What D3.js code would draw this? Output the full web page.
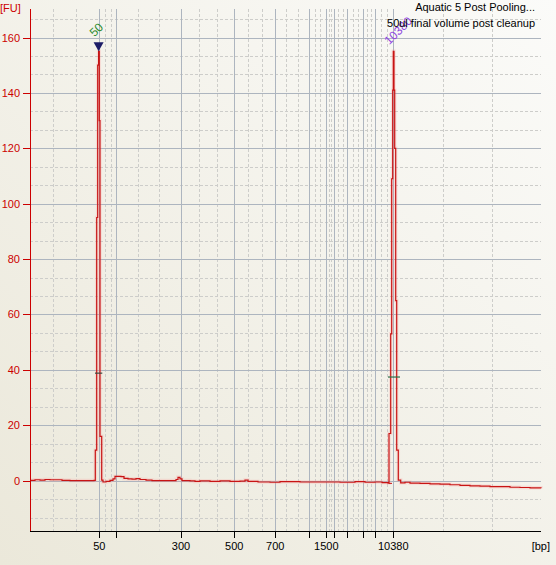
<!DOCTYPE html>
<html>
<head>
<meta charset="utf-8">
<script src="https://cdn.jsdelivr.net/npm/d3@7"></script>
<style>
  html, body { margin: 0; padding: 0; background: #ece9d8; }
  text { font-family: "Liberation Sans", Arial, sans-serif; font-size: 11px; }
</style>
</head>
<body>
<div id="chart"></div>
<script>
// ladder sizes (bp) and their migration times (s)
const ladderBp = [50, 100, 300, 500, 700, 1000, 1500, 2000, 3000, 5000, 7000, 10380]
const ladderTime = [21.93, 23.63, 30.10, 35.43, 39.53, 42.87, 44.63, 45.40, 46.73, 48.33, 49.53, 51.33]
const labeledBp = [50, 300, 500, 700, 1500, 10380]
const yTicks = [0, 20, 40, 60, 80, 100, 120, 140, 160]

// electropherogram trace: time (s) and fluorescence (FU)
const traceTime = [15.0, 15.5, 16.0, 16.5, 17.0, 17.5, 18.2, 19.0, 20.0, 21.0, 21.4,
  21.53, 21.67, 21.77, 21.86, 21.93, 22.00, 22.17, 22.30, 22.6, 23.0, 23.3, 23.5,
  24.1, 24.4, 24.8, 25.2, 25.6, 26.0, 26.6, 27.2, 29.0, 29.6, 29.8, 30.0, 30.2,
  31.0, 31.5, 32.0, 33.0, 34.0, 35.0, 36.0, 36.5, 36.8, 37.8, 39.0, 40.0, 42.0,
  44.0, 46.0, 47.5, 48.5, 49.5, 50.2, 50.8,
  50.9, 51.07, 51.17, 51.27, 51.33, 51.40, 51.47, 51.57, 51.67, 51.83, 52.07,
  52.5, 53.0, 54.0, 55.0, 56.0, 57.0, 58.0, 59.0, 60.0, 61.0, 62.0, 63.0, 64.0, 65.0, 66.1]
const traceFU = [0.1, 0.3, 0.2, 0.4, 0.3, 0.3, 0.1, 0.0, 0.0, 0.0, 0.1,
  11, 95, 150, 155, 130, 16, 0.2, -0.5, -0.3, 0.1, 0.6, 1.5,
  1.4, 0.8, 0.6, 0.5, 0.7, 0.4, 0.2, 0.0, 0.0, 0.4, 1.2, 0.6, 0.0,
  -0.1, -0.3, -0.1, -0.3, -0.1, -0.3, -0.2, 0.2, -0.3, -0.5, -0.6, -0.4, -0.5,
  -0.5, -0.6, -0.4, -0.6, -0.5, -0.7, -0.9,
  17, 53, 109, 141, 155, 141, 120, 65, 11, 0.2, -0.8,
  -0.6, -0.9, -1.0, -1.2, -1.3, -1.5, -1.7, -1.9, -2.0, -2.2, -2.2, -2.4, -2.5, -2.6, -2.8]

// called peaks
const peakBp = [50, 10380]
const peakTime = [21.86, 51.33]
const peakFU = [155, 155]
const peakHalf = [38.8, 37.4]
const peakStart = [21.5, 50.8]
const peakEnd = [22.23, 52.0]

const titleLines = ['Aquatic 5 Post Pooling...', '50ul final volume post cleanup']

const width = 556
const height = 565
const plotLeft = 30, plotRight = 541, plotTop = 9, plotBottom = 531

const xScale = d3.scaleLinear().domain([15, 66.1]).range([plotLeft, plotRight])
const yScale = d3.scaleLinear().domain([-18.2, 170.3]).range([plotBottom, plotTop])

const svg = d3.select('#chart').append('svg')
  .attr('width', width)
  .attr('height', height)

const grad = svg.append('defs').append('linearGradient')
  .attr('id', 'bg')
  .attr('x1', 1).attr('y1', 0).attr('x2', 0).attr('y2', 1)
grad.append('stop').attr('offset', 0).attr('stop-color', '#fbfbf9')
grad.append('stop').attr('offset', 1).attr('stop-color', '#ebe8da')

svg.append('rect')
  .attr('width', width)
  .attr('height', height)
  .attr('fill', 'url(#bg)')

// minor grid: thirds between consecutive majors (and plot edges)
const xEdges = [15].concat(ladderTime, [66.1])
const xMinor = []
for (let i = 0; i < xEdges.length - 1; i++) {
  const step = (xEdges[i + 1] - xEdges[i]) / 3
  xMinor.push(xEdges[i] + step, xEdges[i] + 2 * step)
}
const yMinor = []
for (let v = -40 / 3; v < 170; v += 20 / 3) {
  if (Math.abs(v / 20 - Math.round(v / 20)) > 0.01) yMinor.push(v)
}

const grid = svg.append('g')
grid.selectAll('.xminor').data(xMinor).enter().append('line')
  .attr('x1', d => Math.round(xScale(d)) + 0.5).attr('x2', d => Math.round(xScale(d)) + 0.5)
  .attr('y1', plotTop).attr('y2', plotBottom)
  .attr('stroke', '#cdcdca').attr('stroke-dasharray', '3,2')
grid.selectAll('.yminor').data(yMinor).enter().append('line')
  .attr('x1', plotLeft).attr('x2', plotRight)
  .attr('y1', d => Math.round(yScale(d)) + 0.5).attr('y2', d => Math.round(yScale(d)) + 0.5)
  .attr('stroke', '#cdcdca').attr('stroke-dasharray', '3,2')
grid.selectAll('.xmajor').data(ladderTime).enter().append('line')
  .attr('x1', d => Math.round(xScale(d)) + 0.5).attr('x2', d => Math.round(xScale(d)) + 0.5)
  .attr('y1', plotTop).attr('y2', plotBottom)
  .attr('stroke', '#adb5bf')
grid.selectAll('.ymajor').data(yTicks).enter().append('line')
  .attr('x1', plotLeft).attr('x2', plotRight)
  .attr('y1', d => Math.round(yScale(d)) + 0.5).attr('y2', d => Math.round(yScale(d)) + 0.5)
  .attr('stroke', '#adb5bf')

// trace
const trace = traceTime.map((t, i) => ({ t: t, v: traceFU[i] }))
const line = d3.line()
  .x(d => xScale(d.t))
  .y(d => yScale(d.v))
  .curve(d3.curveStepAfter)

svg.append('path')
  .datum(trace)
  .attr('fill', 'none')
  .attr('stroke', 'rgba(255,140,140,0.22)')
  .attr('stroke-width', 3.5)
  .attr('d', line)
svg.append('path')
  .datum(trace)
  .attr('fill', 'none')
  .attr('stroke', '#c81414')
  .attr('stroke-width', 1.2)
  .attr('d', line)

// peak width markers
const markColors = ['#404840', '#2a7048']
peakBp.forEach((bp, i) => {
  svg.append('line')
    .attr('x1', xScale(peakStart[i])).attr('x2', xScale(peakEnd[i]))
    .attr('y1', yScale(peakHalf[i])).attr('y2', yScale(peakHalf[i]))
    .attr('stroke', markColors[i]).attr('stroke-width', 1.2)
})
// dashed baseline under upper marker
svg.append('line')
  .attr('x1', xScale(peakStart[1]) + 1).attr('x2', xScale(peakTime[1]))
  .attr('y1', yScale(-1)).attr('y2', yScale(-1))
  .attr('stroke', '#c81414').attr('stroke-dasharray', '3,3')

// lower marker triangle
const px0 = xScale(peakTime[0])
const py0 = yScale(peakFU[0])
svg.append('path')
  .attr('d', d3.line()([[px0 - 5, py0 - 9], [px0 + 5, py0 - 9], [px0, py0]]) + 'Z')
  .attr('fill', '#1c1c66')

// peak labels
const labelColors = ['#2e8b2e', '#9048e0']
const labelLift = [14, 6]
peakBp.forEach((bp, i) => {
  const lx = xScale(peakTime[i]) - 4
  const ly = yScale(peakFU[i]) - labelLift[i]
  svg.append('text')
    .attr('transform', 'translate(' + lx + ',' + ly + ') rotate(-45)')
    .attr('fill', labelColors[i])
    .style('font-size', '12px')
    .text(bp)
})

// y axis
const yAxis = svg.append('g')
yAxis.append('line')
  .attr('x1', plotLeft + 0.5).attr('x2', plotLeft + 0.5)
  .attr('y1', plotTop).attr('y2', plotBottom)
  .attr('stroke', '#cc0000')
yAxis.selectAll('.tick').data(yTicks).enter().append('line')
  .attr('x1', 23).attr('x2', plotLeft)
  .attr('y1', d => Math.round(yScale(d)) + 0.5).attr('y2', d => Math.round(yScale(d)) + 0.5)
  .attr('stroke', '#cc0000')
yAxis.selectAll('text').data(yTicks).enter().append('text')
  .attr('x', 20).attr('y', d => yScale(d) + 4)
  .attr('text-anchor', 'end')
  .attr('fill', '#cc0000')
  .text(d => d)
svg.append('text')
  .attr('x', 0).attr('y', 12)
  .attr('fill', '#cc0000')
  .text('[FU]')

// x axis
const xAxis = svg.append('g')
xAxis.append('line')
  .attr('x1', plotLeft).attr('x2', plotRight)
  .attr('y1', plotBottom + 0.5).attr('y2', plotBottom + 0.5)
  .attr('stroke', '#000')
xAxis.selectAll('.tick').data(ladderTime).enter().append('line')
  .attr('x1', d => Math.round(xScale(d)) + 0.5).attr('x2', d => Math.round(xScale(d)) + 0.5)
  .attr('y1', plotBottom).attr('y2', plotBottom + 7)
  .attr('stroke', '#000')
xAxis.selectAll('text').data(labeledBp).enter().append('text')
  .attr('x', d => xScale(ladderTime[ladderBp.indexOf(d)]))
  .attr('y', 550)
  .attr('text-anchor', 'middle')
  .attr('fill', '#000')
  .text(d => d)
svg.append('text')
  .attr('x', 550).attr('y', 550)
  .attr('text-anchor', 'end')
  .text('[bp]')

// title
svg.selectAll('.title').data(titleLines).enter().append('text')
  .attr('x', 535)
  .attr('y', (d, i) => 11 + i * 16)
  .attr('text-anchor', 'end')
  .attr('fill', '#000')
  .text(d => d)
</script>
</body>
</html>
